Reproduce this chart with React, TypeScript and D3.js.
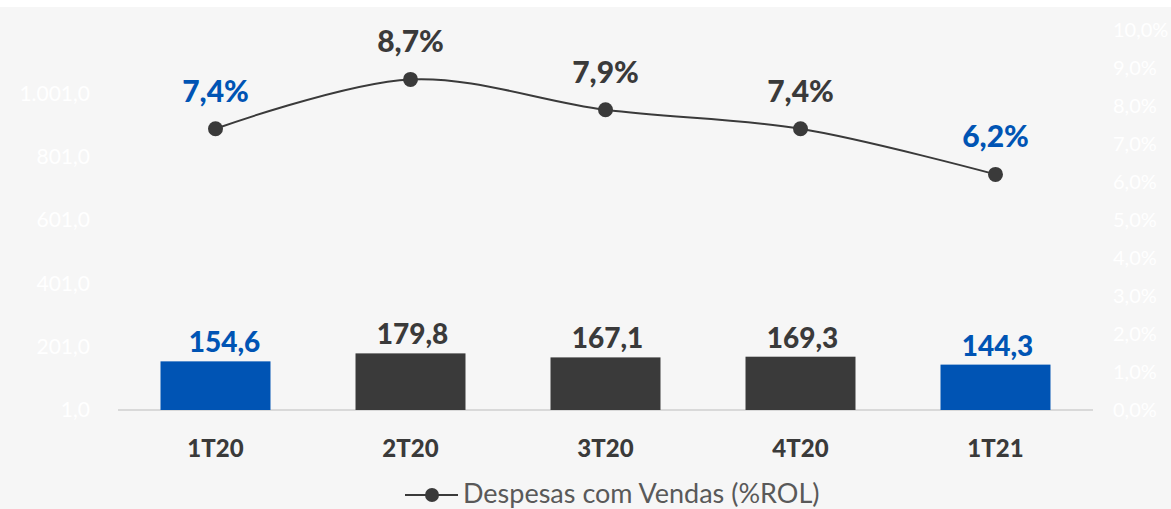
import React from "react";
import * as d3 from "d3";

const categories = ["1T20", "2T20", "3T20", "4T20", "1T21"];
const salesValues = [154.6, 179.8, 167.1, 169.3, 144.3];
const salesLabels = ["154,6", "179,8", "167,1", "169,3", "144,3"];
const pctValues = [7.4, 8.7, 7.9, 7.4, 6.2];
const pctLabels = ["7,4%", "8,7%", "7,9%", "7,4%", "6,2%"];
const highlight = [true, false, false, false, true];
const leftTicks = [1, 201, 401, 601, 801, 1001];
const leftTickLabels = ["1,0", "201,0", "401,0", "601,0", "801,0", "1.001,0"];
const rightTicks = [0, 1, 2, 3, 4, 5, 6, 7, 8, 9, 10];
const legendLabel = "Despesas com Vendas (%ROL)";

const W = 1171, H = 509;
const BLUE = "#0054b4";
const DARK = "#3a3a3a";
const FONT = "Lato, 'Noto Sans', sans-serif";

const App = () => {
    const x = d3.scaleBand().domain(categories).range([118, 1093]).paddingInner(0.436).paddingOuter(0.218);
    const yLeft = d3.scaleLinear().domain([1, 1201]).range([410, 30]);
    const yRight = d3.scaleLinear().domain([0, 10]).range([410, 30]);
    const cx = (c: string) => (x(c) as number) + x.bandwidth() / 2;

    // smooth line like excel's "smoothed line"
    const line = d3.line<number>()
        .x((d, i) => cx(categories[i]))
        .y((d) => yRight(d))
        .curve(d3.curveCatmullRom.alpha(0.5));

    return (
        <svg width={W} height={H} style={{ position: "absolute", left: 0, top: 0, display: "block" }}>
            <rect x={0} y={0} width={W} height={H} fill="#ffffff" />
            <rect x={0} y={7} width={W} height={H - 7} fill="#f6f6f6" />
            {leftTicks.map((t, i) => (
                <text key={"l" + i} x={90} y={yLeft(t)} dy="0.35em" textAnchor="end" fill="#ffffff" fontSize={21} fontFamily={FONT}>
                    {leftTickLabels[i]}
                </text>
            ))}
            {rightTicks.map((t) => (
                <text key={"r" + t} x={1113} y={yRight(t)} dy="0.35em" fill="#ffffff" fontSize={20} fontFamily={FONT}>
                    {t.toFixed(1).replace(".", ",") + "%"}
                </text>
            ))}
            <line x1={118} x2={1093} y1={yLeft(1)} y2={yLeft(1)} stroke="#d9d9d9" strokeWidth={2} />
            {categories.map((c, i) => (
                <g key={c}>
                    <rect x={x(c)} y={yLeft(salesValues[i])} width={x.bandwidth()} height={yLeft(1) - yLeft(salesValues[i])}
                        fill={highlight[i] ? BLUE : DARK} />
                    <text x={cx(c) + (i === 0 ? 9 : 2)} y={yLeft(salesValues[i]) - 9} textAnchor="middle" fontWeight={900}
                        fontSize={28} fill={highlight[i] ? BLUE : DARK} fontFamily={FONT}>
                        {salesLabels[i]}
                    </text>
                    <text x={cx(c)} y={457} textAnchor="middle" fontWeight={900} fontSize={24} fill={DARK} fontFamily={FONT}>
                        {c}
                    </text>
                </g>
            ))}
            <path d={line(pctValues) || ""} fill="none" stroke={DARK} strokeWidth={2} />
            {categories.map((c, i) => (
                <g key={"p" + c}>
                    <circle cx={cx(c)} cy={yRight(pctValues[i])} r={7.5} fill={DARK} />
                    <text x={cx(c)} y={yRight(pctValues[i]) - 27} textAnchor="middle" fontWeight={900} fontSize={30}
                        fill={highlight[i] ? BLUE : DARK} fontFamily={FONT}>
                        {pctLabels[i]}
                    </text>
                </g>
            ))}
            <g transform="translate(405,495)">
                <line x1={0} x2={53} y1={0} y2={0} stroke={DARK} strokeWidth={2} />
                <circle cx={27} cy={0} r={7} fill={DARK} />
                <text x={58} y={8} fontSize={27} fill="#595959" fontFamily={FONT}>{legendLabel}</text>
            </g>
        </svg>
    );
};

export default App;
